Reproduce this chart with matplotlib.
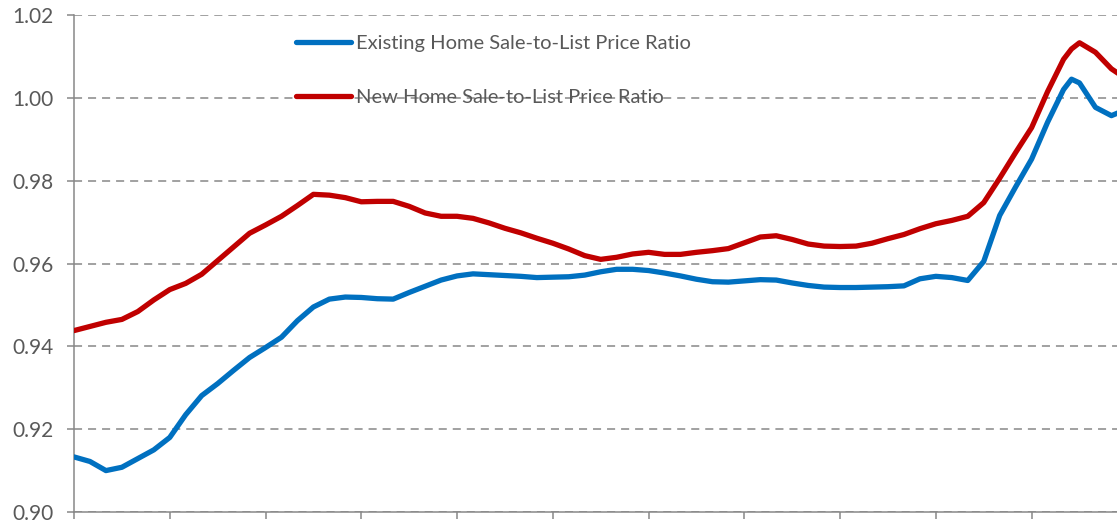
import matplotlib
matplotlib.use("Agg")
import matplotlib.pyplot as plt

# ------------------------
# Data (month index from start)
# ------------------------
months = [0, 2, 4, 6, 8, 10, 12, 14, 16, 18, 20, 22, 24, 26, 28, 30, 32, 34, 36, 38,
          40, 42, 44, 46, 48, 50, 52, 54, 56, 58, 60, 62, 64, 66, 68, 70, 72, 74, 76, 78,
          80, 82, 84, 86, 88, 90, 92, 94, 96, 98, 100, 102, 104, 106, 108, 110, 112, 114,
          116, 118, 120, 122, 124, 125, 126, 128, 130, 131]

existing_ratio = [0.9133, 0.9122, 0.9100, 0.9108, 0.9129, 0.9150, 0.9180, 0.9235, 0.9281, 0.9310,
                  0.9342, 0.9373, 0.9397, 0.9422, 0.9462, 0.9495, 0.9514, 0.9519, 0.9518, 0.9515,
                  0.9514, 0.9530, 0.9545, 0.9560, 0.9570, 0.9575, 0.9573, 0.9571, 0.9569, 0.9566,
                  0.9567, 0.9568, 0.9572, 0.9580, 0.9586, 0.9586, 0.9583, 0.9577, 0.9570, 0.9562,
                  0.9556, 0.9555, 0.9558, 0.9561, 0.9560, 0.9553, 0.9547, 0.9543, 0.9542, 0.9542,
                  0.9543, 0.9544, 0.9546, 0.9563, 0.9569, 0.9566, 0.9559, 0.9605, 0.9716, 0.9785,
                  0.9852, 0.9941, 1.0020, 1.0045, 1.0036, 0.9977, 0.9957, 0.9965]

new_ratio = [0.9438, 0.9448, 0.9458, 0.9465, 0.9484, 0.9512, 0.9537, 0.9552, 0.9574, 0.9607,
             0.9640, 0.9673, 0.9693, 0.9714, 0.9740, 0.9767, 0.9765, 0.9759, 0.9749, 0.9750,
             0.9750, 0.9738, 0.9722, 0.9714, 0.9714, 0.9709, 0.9698, 0.9685, 0.9674, 0.9661,
             0.9649, 0.9635, 0.9619, 0.9610, 0.9615, 0.9623, 0.9627, 0.9622, 0.9622, 0.9627,
             0.9631, 0.9636, 0.9650, 0.9664, 0.9667, 0.9658, 0.9647, 0.9642, 0.9641, 0.9642,
             0.9649, 0.9660, 0.9670, 0.9684, 0.9696, 0.9704, 0.9714, 0.9747, 0.9806, 0.9868,
             0.9928, 1.0015, 1.0093, 1.0118, 1.0133, 1.0110, 1.0070, 1.0057]

y_ticks = [0.90, 0.92, 0.94, 0.96, 0.98, 1.00, 1.02]
x_ticks = list(range(0, 121, 12))

# ------------------------
# Plot
# ------------------------
plt.rcParams["font.family"] = ["Lato", "DejaVu Sans"]
plt.rcParams["lines.scale_dashes"] = False

GRID = "#878787"
TEXT = "#595959"

fig = plt.figure(figsize=(11.17, 5.24), dpi=100)
ax = fig.add_axes([74 / 1117, 12 / 524, 1 - 74 / 1117, 497 / 524])

ax.plot(months, existing_ratio, color="#0070C0", lw=3.8, solid_capstyle="round",
        solid_joinstyle="round", label="Existing Home Sale-to-List Price Ratio", zorder=3)
ax.plot(months, new_ratio, color="#C00000", lw=3.8, solid_capstyle="round",
        solid_joinstyle="round", label="New Home Sale-to-List Price Ratio", zorder=3)

ax.set_xlim(0, 130.7)
ax.set_ylim(0.90, 1.02)
ax.set_xticks(x_ticks)
ax.set_xticklabels([])
ax.set_yticks(y_ticks)
ax.set_yticklabels([f"{v:.2f}" for v in y_ticks])

ax.yaxis.grid(True, color=GRID, lw=1.1, linestyle=(0, (5.8, 4.3)))
ax.set_axisbelow(True)

for side in ["top", "right"]:
    ax.spines[side].set_visible(False)
for side in ["left", "bottom"]:
    ax.spines[side].set_color(GRID)
    ax.spines[side].set_linewidth(1.1)

ax.tick_params(axis="both", color=GRID, width=1.1, length=5, direction="out")
ax.tick_params(axis="y", labelsize=15, labelcolor=TEXT, pad=10)

leg = ax.legend(loc="upper left", bbox_to_anchor=(296 / 1117, 1 - 35 / 524),
                bbox_transform=fig.transFigure, frameon=False, fontsize=14.5,
                handlelength=2.75, handletextpad=0.25, labelspacing=1.85,
                borderpad=0, borderaxespad=0)
for t in leg.get_texts():
    t.set_color(TEXT)

plt.savefig("out.png", dpi=100)
